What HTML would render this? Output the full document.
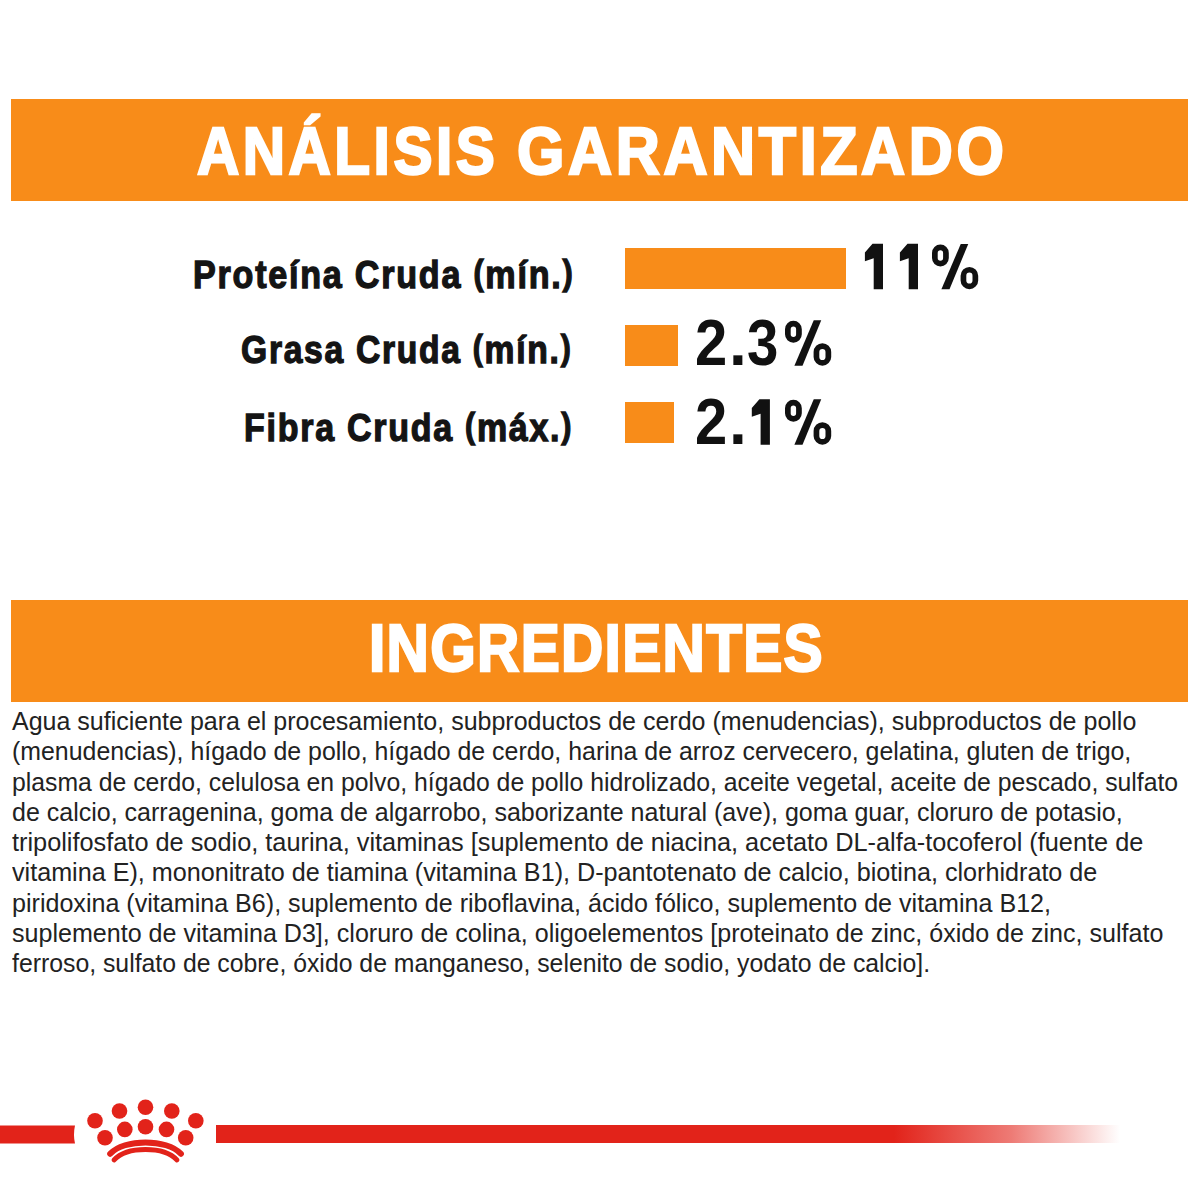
<!DOCTYPE html>
<html>
<head>
<meta charset="utf-8">
<style>
html,body{margin:0;padding:0;background:#fff;}
body{width:1200px;height:1200px;position:relative;overflow:hidden;font-family:"Liberation Sans",sans-serif;}
.banner{position:absolute;left:11px;width:1177px;height:102px;background:#F88C19;}
.t{position:absolute;white-space:nowrap;transform-origin:0 0;line-height:1;}
.title{color:#fff;font-weight:bold;font-size:67px;-webkit-text-stroke:2.4px #fff;letter-spacing:4px;}
.lab{color:#141414;font-weight:bold;font-size:39px;-webkit-text-stroke:1.3px #141414;letter-spacing:2px;}
.pr{font-size:35px;position:relative;top:-3px;}
.num{color:#111;font-weight:bold;font-size:64px;}
.bar{position:absolute;background:#F88C19;}
.body{position:absolute;left:12px;top:706px;color:#222;font-size:25px;}
.body div{white-space:nowrap;height:30.31px;line-height:30.31px;transform-origin:0 50%;}
</style>
</head>
<body>
<div class="banner" style="top:99px"></div>
<div class="t title" id="w1" style="left:196.5px;top:117px;transform:scaleX(0.874)">ANÁLISIS</div><div class="t title" id="w2" style="left:516.8px;top:117px;transform:scaleX(0.910)">GARANTIZADO</div>

<div class="t lab" style="left:192.7px;top:255px;transform:scaleX(0.8752)">Proteína Cruda <span class="pr">(</span>mín.<span class="pr">)</span></div>
<div class="t lab" style="left:240.5px;top:330px;transform:scaleX(0.8621)">Grasa Cruda <span class="pr">(</span>mín.<span class="pr">)</span></div>
<div class="t lab" style="left:243.8px;top:408px;transform:scaleX(0.8711)">Fibra Cruda <span class="pr">(</span>máx.<span class="pr">)</span></div>

<div class="bar" style="left:625px;top:248px;width:221px;height:41px"></div>
<div class="bar" style="left:625px;top:325px;width:53px;height:41px"></div>
<div class="bar" style="left:625px;top:402px;width:49px;height:41px"></div>

<div class="t num" id="g2a" style="left:695px;top:311.3px;transform:scaleX(0.905)">2</div><div class="t num" id="pa" style="left:729px;top:311.3px">.</div><div class="t num" id="g3" style="left:747px;top:311.3px;transform:scaleX(0.88)">3</div><div class="t num" id="g2b" style="left:695px;top:390.2px;transform:scaleX(0.905)">2</div><div class="t num" id="pb" style="left:729px;top:390.2px">.</div>
<svg style="position:absolute;left:0;top:0" width="1200" height="500" viewBox="0 0 1200 500"><g fill="#111"><path d="M872.50 243.75 L883.00 243.75 L883.00 289.25 L873.70 289.25 L873.70 258.35 L864.90 261.25 L864.90 252.50 Z"/><path d="M907.50 243.75 L918.00 243.75 L918.00 289.25 L908.70 289.25 L908.70 258.35 L899.90 261.25 L899.90 252.50 Z"/><rect x="934.85" y="247.44" width="11.10" height="16.11" rx="5.55" fill="none" stroke="#111" stroke-width="5.7"/><rect x="963.45" y="269.75" width="11.90" height="16.60" rx="5.95" fill="none" stroke="#111" stroke-width="5.7"/><path d="M941.40 289.20 L949.50 289.20 L968.25 244.00 L960.75 244.00 Z"/><rect x="787.85" y="323.65" width="11.10" height="16.25" rx="5.55" fill="none" stroke="#111" stroke-width="5.7"/><rect x="816.45" y="346.10" width="11.90" height="16.75" rx="5.95" fill="none" stroke="#111" stroke-width="5.7"/><path d="M794.40 365.70 L802.50 365.70 L821.25 320.20 L813.75 320.20 Z"/><path d="M759.40 399.20 L769.90 399.20 L769.90 444.70 L760.60 444.70 L760.60 413.80 L751.80 416.70 L751.80 407.95 Z"/><rect x="787.85" y="402.65" width="11.10" height="16.25" rx="5.55" fill="none" stroke="#111" stroke-width="5.7"/><rect x="816.45" y="425.10" width="11.90" height="16.75" rx="5.95" fill="none" stroke="#111" stroke-width="5.7"/><path d="M794.40 444.70 L802.50 444.70 L821.25 399.20 L813.75 399.20 Z"/></g></svg>

<div class="banner" style="top:600px"></div>
<div class="t title" style="left:368.5px;top:614px;letter-spacing:1.5px;transform:scaleX(0.874)">INGREDIENTES</div>

<div class="body">
<div style="transform:scaleX(1.0)">Agua suficiente para el procesamiento, subproductos de cerdo (menudencias), subproductos de pollo</div>
<div style="transform:scaleX(0.9955)">(menudencias), hígado de pollo, hígado de cerdo, harina de arroz cervecero, gelatina, gluten de trigo,</div>
<div style="transform:scaleX(0.9906)">plasma de cerdo, celulosa en polvo, hígado de pollo hidrolizado, aceite vegetal, aceite de pescado, sulfato</div>
<div style="transform:scaleX(1.0003)">de calcio, carragenina, goma de algarrobo, saborizante natural (ave), goma guar, cloruro de potasio,</div>
<div style="transform:scaleX(1.01254)">tripolifosfato de sodio, taurina, vitaminas [suplemento de niacina, acetato DL-alfa-tocoferol (fuente de</div>
<div style="transform:scaleX(1.0065)">vitamina E), mononitrato de tiamina (vitamina B1), D-pantotenato de calcio, biotina, clorhidrato de</div>
<div style="transform:scaleX(1.00363)">piridoxina (vitamina B6), suplemento de riboflavina, ácido fólico, suplemento de vitamina B12,</div>
<div style="transform:scaleX(1.00305)">suplemento de vitamina D3], cloruro de colina, oligoelementos [proteinato de zinc, óxido de zinc, sulfato</div>
<div style="transform:scaleX(0.99187)">ferroso, sulfato de cobre, óxido de manganeso, selenito de sodio, yodato de calcio].</div>
</div>

<!-- footer line -->
<svg style="position:absolute;left:0;top:1120px" width="80" height="30" viewBox="0 1120 80 30"><path d="M0 1125.5 L75 1125.5 Q73 1134.5 75 1143.5 L0 1143.5 Z" fill="#E2231A"/></svg>
<div style="position:absolute;left:216px;top:1125px;width:904px;height:18px;background:linear-gradient(to right,#E2231A 0%,#E2231A 75%,rgba(226,35,26,0.6) 88%,rgba(226,35,26,0) 100%)"></div>

<svg style="position:absolute;left:0;top:0" width="1200" height="1200" viewBox="0 0 1200 1200">
<g fill="#E2231A">
<circle cx="95" cy="1120.8" r="7.8"/>
<circle cx="119.5" cy="1111" r="7.8"/>
<circle cx="145.5" cy="1107.3" r="7.8"/>
<circle cx="171.8" cy="1111" r="7.8"/>
<circle cx="195.8" cy="1120.8" r="7.8"/>
<circle cx="105" cy="1137.7" r="7.8"/>
<circle cx="124.8" cy="1129.4" r="7.8"/>
<circle cx="145.5" cy="1126.8" r="7.8"/>
<circle cx="166.5" cy="1129.4" r="7.8"/>
<circle cx="185.7" cy="1137.7" r="7.8"/>
</g>
<g fill="none" stroke="#E2231A" stroke-linecap="round">
<path d="M110.2 1153.8 C124 1138.6 167 1138.6 180.9 1153.8" stroke-width="6"/>
<path d="M114 1160 C127 1146 164 1146 177 1160" stroke-width="4.8"/>
</g>
</svg>
</body>
</html>
